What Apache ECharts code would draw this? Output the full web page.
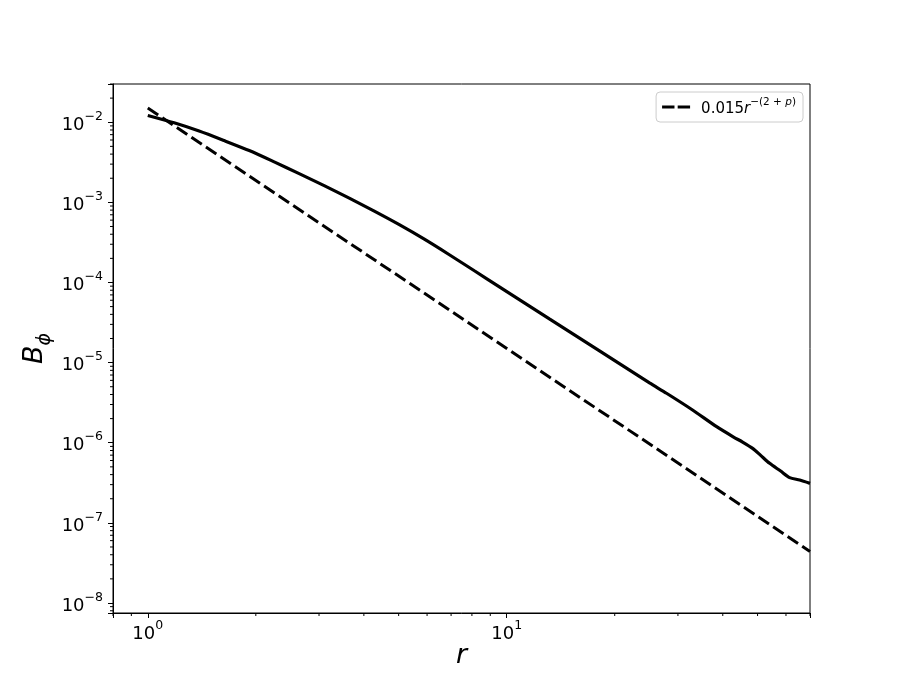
<!DOCTYPE html>
<html><head><meta charset="utf-8">
<script src="https://cdn.jsdelivr.net/npm/echarts@6/dist/echarts.min.js"></script>
<style>html,body{margin:0;padding:0;background:#fff}#c{width:900px;height:700px}</style>
</head><body><div id="c"></div>
<script>
// Solid curve: B_phi(r)
const rValues = [1.0, 1.184, 1.39, 1.632, 1.917, 2.25, 2.641, 3.101, 3.642, 4.277, 5.021, 5.896, 6.922, 8.128, 9.542, 13.15, 18.14, 25.0, 27.88, 32.95, 38.45, 42.87, 45.42, 48.44, 51.01, 54.04, 57.99, 61.43, 65.5, 70];
const bPhi = [0.01213, 9.83e-3, 7.76e-3, 5.90e-3, 4.43e-3, 3.20e-3, 2.284e-3, 1.617e-3, 1.129e-3, 7.76e-4, 5.26e-4, 3.47e-4, 2.22e-4, 1.40e-4, 8.83e-5, 3.517e-5, 1.40e-5, 5.575e-6, 4.145e-6, 2.563e-6, 1.585e-6, 1.178e-6, 1.02e-6, 8.51e-7, 6.96e-7, 5.53e-7, 4.43e-7, 3.67e-7, 3.42e-7, 3.11e-7];
// Dashed reference line end points
const fitR = [1, 70];
const fitB = [0.015, 4.4e-8];
const legendLabel = '0.015r^{-(2+p)}';
// Axis ranges and tick labels
const xMin = 0.8, xMax = 70;
const yMin = 7.5e-9, yMax = 0.03;
const minorMultipliers = [2, 3, 4, 5, 6, 7, 8, 9];

function minorTicks(lo, hi) {
  const out = [];
  for (let e = Math.floor(Math.log10(lo)); e <= Math.ceil(Math.log10(hi)); e++) {
    for (const m of minorMultipliers) {
      const v = m * Math.pow(10, e);
      if (v >= lo * 0.9999 && v <= hi * 1.0001) out.push(v);
    }
  }
  return out;
}
const xMinor = minorTicks(xMin, xMax);
const yMinor = minorTicks(yMin, yMax);

const FONT = 'DejaVu Sans';
const tickRich = {
  b: { fontSize: 18, fontFamily: FONT, color: '#000', lineHeight: 24, verticalAlign: 'bottom' },
  s: { fontSize: 12.5, fontFamily: FONT, color: '#000', lineHeight: 15, verticalAlign: 'top' }
};
function powLabel(v) {
  const e = Math.log10(v);
  const r = Math.round(e);
  if (Math.abs(e - r) > 1e-6) return '';
  return '{b|10}{s|' + (r < 0 ? '\u2212' + (-r) : r) + '}';
}

const chart = echarts.init(document.getElementById('c'), null, { renderer: 'canvas' });
chart.setOption({
  animation: false,
  backgroundColor: '#fff',
  grid: { left: 113, right: 90, top: 84, bottom: 87, show: true, borderColor: '#000', borderWidth: 1, backgroundColor: 'transparent' },
  xAxis: {
    type: 'log', logBase: 10, min: xMin, max: xMax,
    name: 'r', nameLocation: 'middle', nameGap: 29, nameMoveOverlap: false,
    nameTextStyle: { fontSize: 27, fontStyle: 'italic', fontFamily: FONT, color: '#000' },
    axisLine: { show: true, lineStyle: { color: '#000', width: 1 } },
    axisTick: { show: true, length: 5, lineStyle: { color: '#000', width: 1 } },
    splitLine: { show: false },
    minorTick: { show: false },
    axisLabel: { margin: 6, formatter: v => powLabel(v), rich: tickRich }
  },
  yAxis: {
    type: 'log', logBase: 10, min: yMin, max: yMax,
    name: '{b|B}{sub|\u03d5}', nameLocation: 'middle', nameGap: 58, nameRotate: 90, nameMoveOverlap: false,
    nameTextStyle: { rich: {
      b: { fontSize: 27, fontStyle: 'italic', fontFamily: FONT, color: '#000', lineHeight: 34, verticalAlign: 'top' },
      sub: { fontSize: 19, fontStyle: 'italic', fontFamily: FONT, color: '#000', lineHeight: 24, verticalAlign: 'bottom' }
    } },
    axisLine: { show: true, lineStyle: { color: '#000', width: 1 } },
    axisTick: { show: true, length: 5, lineStyle: { color: '#000', width: 1 } },
    splitLine: { show: false },
    minorTick: { show: false },
    axisLabel: { margin: 10, formatter: v => powLabel(v), rich: tickRich }
  },
  legend: {
    data: [{ name: legendLabel, icon: 'path://M0,0H12.4V3H0Z M15.6,0H28V3H15.6Z' }],
    top: 92, right: 97,
    itemWidth: 28, itemHeight: 3,
    padding: [5, 7, 5, 6],
    borderColor: '#cccccc', borderWidth: 1, borderRadius: 4, backgroundColor: '#fff',
    itemStyle: { color: '#000' },
    formatter: () => '{sp|}{n|0.015}{i|r}{s|\u2212(2 + }{si|p}{s|)}',
    textStyle: { rich: {
      sp: { width: 6, lineHeight: 20 },
      n: { fontSize: 15, fontFamily: FONT, color: '#000', lineHeight: 20, verticalAlign: 'bottom' },
      i: { fontSize: 15, fontFamily: FONT, fontStyle: 'italic', color: '#000', lineHeight: 20, verticalAlign: 'bottom' },
      s: { fontSize: 10.5, fontFamily: FONT, color: '#000', lineHeight: 13, verticalAlign: 'top' },
      si: { fontSize: 10.5, fontFamily: FONT, fontStyle: 'italic', color: '#000', lineHeight: 13, verticalAlign: 'top' }
    } }
  },
  series: [
    {
      name: 'B', type: 'line', showSymbol: false, symbol: 'none', smooth: 0.25,
      data: rValues.map((r, i) => [r, bPhi[i]]),
      lineStyle: { color: '#000', width: 3.2 }, itemStyle: { color: '#000' }, clip: true
    },
    {
      name: legendLabel, type: 'line', showSymbol: false, symbol: 'none',
      data: fitR.map((r, i) => [r, fitB[i]]),
      lineStyle: { color: '#000', width: 3, type: [12.5, 5] }, itemStyle: { color: '#000' }, clip: true
    },
    {
      name: 'xminor', type: 'custom', silent: true, clip: false,
      data: xMinor.map(v => [v, yMin]),
      renderItem: (params, api) => {
        const p = api.coord([api.value(0), api.value(1)]);
        return { type: 'line', shape: { x1: p[0], y1: p[1], x2: p[0], y2: p[1] + 3 }, style: { stroke: '#000', lineWidth: 1 } };
      }
    },
    {
      name: 'yminor', type: 'custom', silent: true, clip: false,
      data: yMinor.map(v => [xMin, v]),
      renderItem: (params, api) => {
        const p = api.coord([api.value(0), api.value(1)]);
        return { type: 'line', shape: { x1: p[0], y1: p[1], x2: p[0] - 3, y2: p[1] }, style: { stroke: '#000', lineWidth: 1 } };
      }
    }
  ]
});
</script></body></html>
